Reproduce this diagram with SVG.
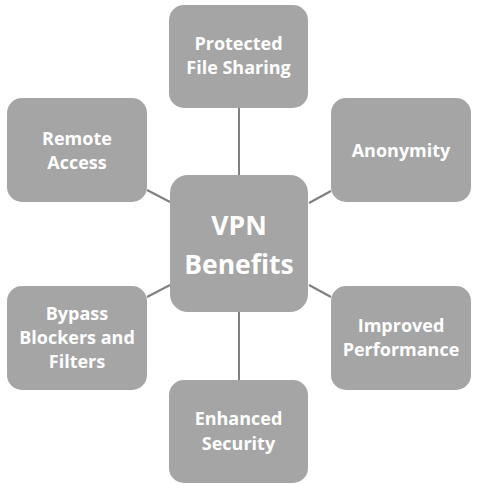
<svg xmlns="http://www.w3.org/2000/svg" width="479" height="485" viewBox="0 0 479 485">
<style>
.box{fill:#a5a5a5;}
.t{fill:#fff;font-family:"Open Sans","Noto Sans","DejaVu Sans",sans-serif;font-weight:bold;font-size:18px;text-anchor:middle;}
.c{font-size:26.5px;}
.ln{stroke:#7f7f7f;stroke-width:2;fill:none;}
</style>
<rect width="479" height="485" fill="#fff"/>
<g id="connectors">
<line class="ln" x1="239" y1="108" x2="239" y2="175"/>
<line class="ln" x1="239" y1="312" x2="239" y2="380"/>
<line class="ln" x1="147" y1="190" x2="170" y2="202"/>
<line class="ln" x1="309" y1="203" x2="331" y2="191"/>
<line class="ln" x1="147" y1="297" x2="170" y2="285"/>
<line class="ln" x1="309" y1="285" x2="331" y2="297"/>
</g>
<g id="center">
<rect class="box" x="170" y="175" width="138" height="137" rx="18"/>
<text class="t c" x="239" y="235">VPN</text>
<text class="t c" x="239" y="274">Benefits</text>
</g>
<g id="file-sharing">
<rect class="box" x="169" y="5" width="139" height="103" rx="15"/>
<text class="t" x="238.5" y="50">Protected</text>
<text class="t" x="238.5" y="74">File Sharing</text>
</g>
<g id="remote-access">
<rect class="box" x="7" y="98" width="140" height="104" rx="15"/>
<text class="t" x="77" y="145">Remote</text>
<text class="t" x="77" y="169">Access</text>
</g>
<g id="anonymity">
<rect class="box" x="331" y="98" width="140" height="104" rx="15"/>
<text class="t" x="401" y="157">Anonymity</text>
</g>
<g id="bypass">
<rect class="box" x="7" y="286" width="140" height="104" rx="15"/>
<text class="t" x="77" y="320">Bypass</text>
<text class="t" x="77" y="344">Blockers and</text>
<text class="t" x="77" y="368">Filters</text>
</g>
<g id="performance">
<rect class="box" x="331" y="286" width="140" height="104" rx="15"/>
<text class="t" x="401" y="332">Improved</text>
<text class="t" x="401" y="356">Performance</text>
</g>
<g id="security">
<rect class="box" x="169" y="380" width="139" height="103" rx="15"/>
<text class="t" x="238.5" y="425">Enhanced</text>
<text class="t" x="238.5" y="450">Security</text>
</g>
</svg>
